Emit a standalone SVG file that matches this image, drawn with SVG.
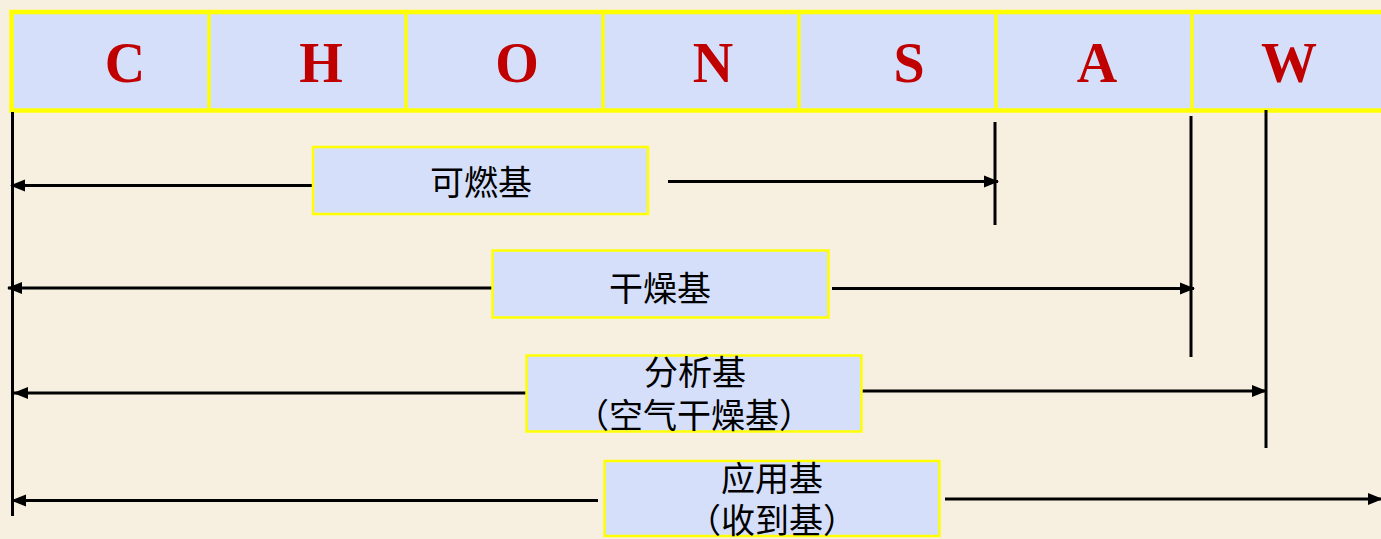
<svg xmlns="http://www.w3.org/2000/svg" width="1381" height="539" viewBox="0 0 1381 539">
<style>
.cell{fill:#d5dffa;stroke:#ffff00;stroke-width:3.5}
.let{font-family:"Liberation Serif",serif;font-weight:bold;font-size:56px;fill:#c00000;text-anchor:middle}
.box{fill:#d5dffa;stroke:#ffff00;stroke-width:2.5}
.lbl{font-family:"Noto Sans CJK SC",sans-serif;font-size:34px;fill:#000;text-anchor:middle}
.ln{stroke:#000;stroke-width:3;fill:none}
</style>
<defs>
<marker id="ah" markerUnits="userSpaceOnUse" markerWidth="16" markerHeight="14" refX="14" refY="7" orient="auto">
<path d="M0,1 L15,7 L0,13 Z" fill="#000"/>
</marker>
</defs>
<rect x="0" y="0" width="1381" height="539" fill="#f7f0e1"/>
<g id="header">
<rect class="cell" x="11.5" y="12" width="1385" height="98.5" style="stroke-width:4.5"/>
<g stroke="#ffff00" stroke-width="3.3">
<line x1="209" y1="12" x2="209" y2="110"/>
<line x1="406" y1="12" x2="406" y2="110"/>
<line x1="603" y1="12" x2="603" y2="110"/>
<line x1="799" y1="12" x2="799" y2="110"/>
<line x1="996" y1="12" x2="996" y2="110"/>
<line x1="1192" y1="12" x2="1192" y2="110"/>
</g>
<text class="let" x="125" y="82">C</text>
<text class="let" x="321" y="82">H</text>
<text class="let" x="517" y="82">O</text>
<text class="let" x="713" y="82">N</text>
<text class="let" x="909" y="82">S</text>
<text class="let" x="1097" y="82">A</text>
<text class="let" x="1289" y="82">W</text>
</g>
<g id="connectors">
<line class="ln" x1="12.5" y1="112" x2="12.5" y2="516"/>
<line class="ln" x1="995" y1="122" x2="995" y2="225"/>
<line class="ln" x1="1191" y1="116" x2="1191" y2="357"/>
<line class="ln" x1="1266" y1="110" x2="1266" y2="448"/>
<line class="ln" x1="316" y1="185.5" x2="11" y2="185.5" marker-end="url(#ah)"/>
<line class="ln" x1="668" y1="181.5" x2="998" y2="181.5" marker-end="url(#ah)"/>
<line class="ln" x1="496" y1="288" x2="8" y2="288" marker-end="url(#ah)"/>
<line class="ln" x1="832" y1="288.5" x2="1194" y2="288.5" marker-end="url(#ah)"/>
<line class="ln" x1="530" y1="393" x2="14" y2="393" marker-end="url(#ah)"/>
<line class="ln" x1="862" y1="391" x2="1266" y2="391" marker-end="url(#ah)"/>
<line class="ln" x1="598" y1="500.5" x2="12" y2="500.5" marker-end="url(#ah)"/>
<line class="ln" x1="945" y1="499" x2="1382" y2="499" marker-end="url(#ah)"/>
</g>
<g id="node-kerangji">
<rect class="box" x="313" y="147" width="335" height="67"/>
<text class="lbl" x="481" y="195">可燃基</text>
</g>
<g id="node-ganzaoji">
<rect class="box" x="492.5" y="250.5" width="336" height="67"/>
<text class="lbl" x="660" y="301">干燥基</text>
</g>
<g id="node-fenxiji">
<rect class="box" x="526.5" y="355.5" width="335" height="76"/>
<text class="lbl" x="695" y="385">分析基</text>
<text class="lbl" x="694" y="428">（空气干燥基）</text>
</g>
<g id="node-yingyongji">
<rect class="box" x="604.5" y="461" width="335" height="75"/>
<text class="lbl" x="772" y="491">应用基</text>
<text class="lbl" x="772" y="533">（收到基）</text>
</g>
</svg>
